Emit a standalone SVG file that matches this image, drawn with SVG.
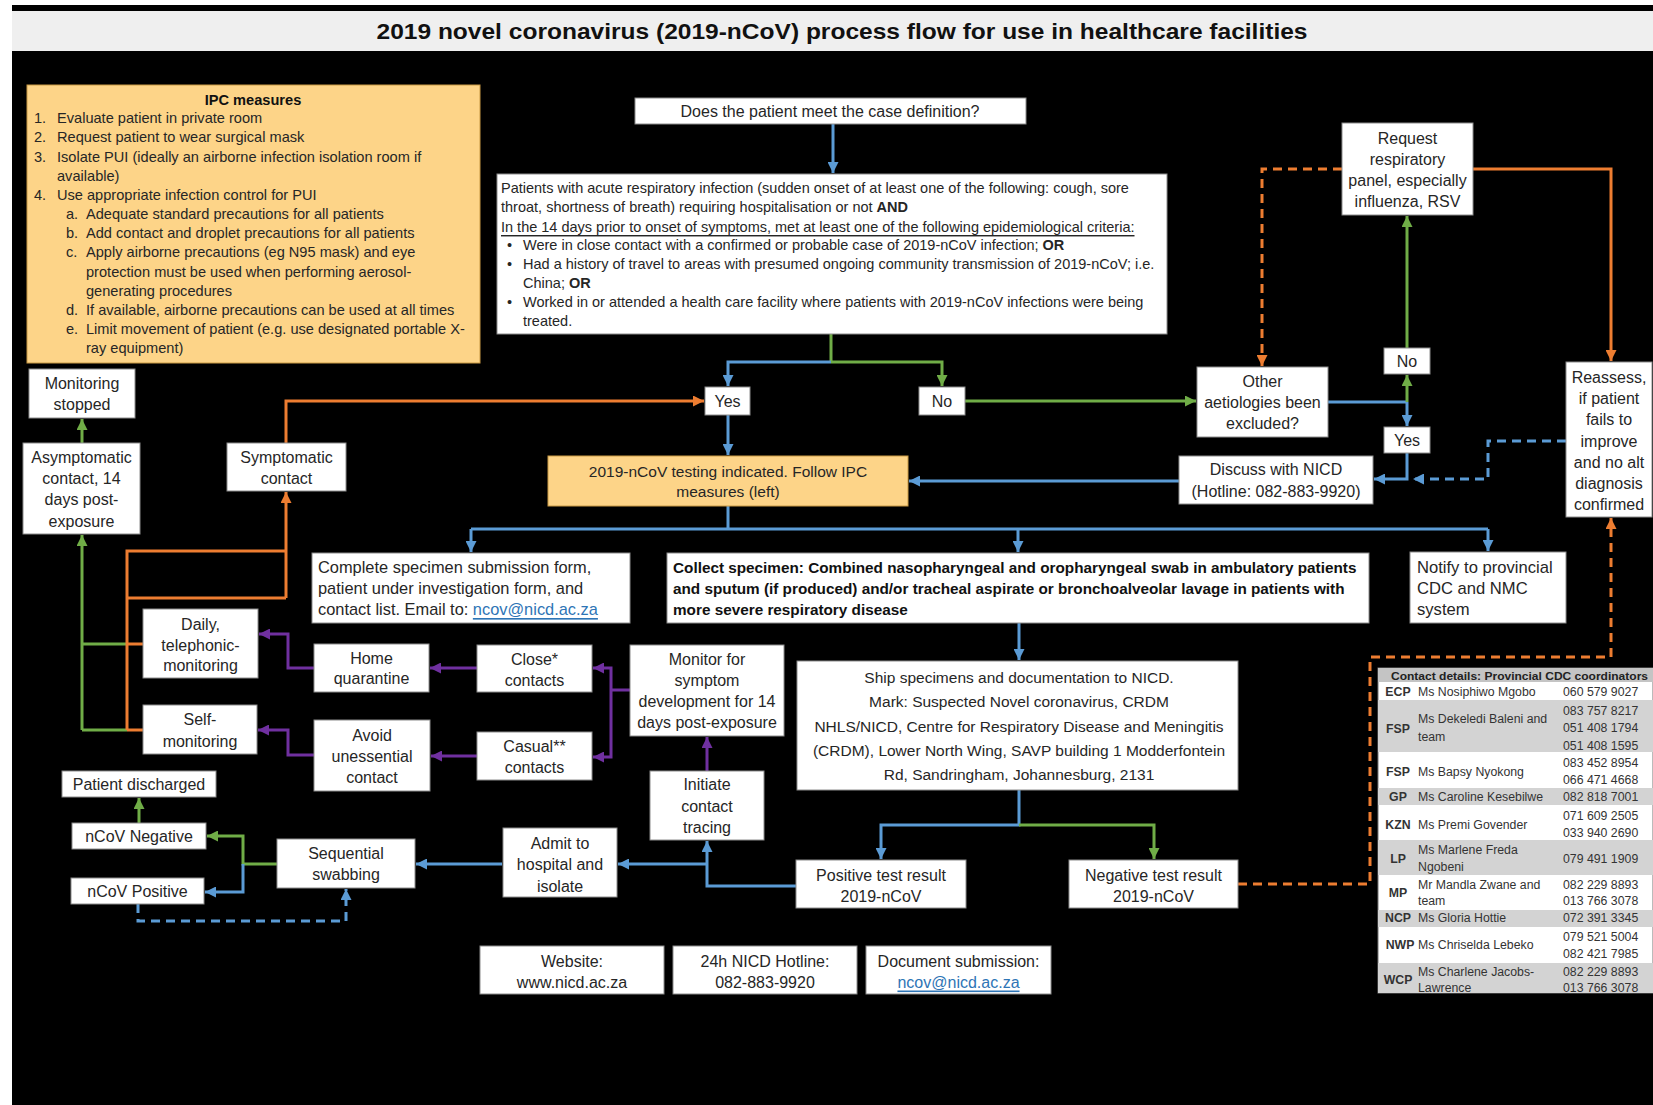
<svg xmlns="http://www.w3.org/2000/svg" width="1653" height="1105" viewBox="0 0 1653 1105">
<defs>
<style>
.box{fill:#fff;stroke:#8c8c8c;stroke-width:1}
.obox{fill:#fdd488;stroke:#c99a45;stroke-width:1}
.t{font-family:"Liberation Sans",Arial,sans-serif;font-size:16px;fill:#262626;text-anchor:middle;dominant-baseline:central}
.l{text-anchor:start}
.b{font-weight:bold}
.s14{font-size:14.6px}
.s13{font-size:14.5px}
.c{fill:none;stroke-width:3}
.blue{stroke:#5b9bd5}
.green{stroke:#70ad47}
.orange{stroke:#ed7d31}
.purple{stroke:#7030a0}
.dash{stroke-dasharray:9 6}
.link{fill:#2e75b6;text-decoration:underline}
.tb{font-family:"Liberation Sans",Arial,sans-serif;font-size:12.3px;fill:#333;dominant-baseline:central}
.gray{fill:#d3d3d3}
.white{fill:#fff}
</style>
<marker id="ab" viewBox="0 0 10 10" refX="10" refY="5" markerWidth="11" markerHeight="11" markerUnits="userSpaceOnUse" orient="auto"><path d="M0,0 L10,5 L0,10 z" fill="#5b9bd5"/></marker>
<marker id="ag" viewBox="0 0 10 10" refX="10" refY="5" markerWidth="11" markerHeight="11" markerUnits="userSpaceOnUse" orient="auto"><path d="M0,0 L10,5 L0,10 z" fill="#70ad47"/></marker>
<marker id="ao" viewBox="0 0 10 10" refX="10" refY="5" markerWidth="11" markerHeight="11" markerUnits="userSpaceOnUse" orient="auto"><path d="M0,0 L10,5 L0,10 z" fill="#ed7d31"/></marker>
<marker id="ap" viewBox="0 0 10 10" refX="10" refY="5" markerWidth="11" markerHeight="11" markerUnits="userSpaceOnUse" orient="auto"><path d="M0,0 L10,5 L0,10 z" fill="#7030a0"/></marker>
</defs>

<rect x="0" y="0" width="1653" height="1105" fill="#fff"/>
<rect x="12" y="5" width="1641" height="6" fill="#000"/>
<rect x="12" y="11" width="1641" height="40" fill="#efefef"/>
<rect x="12" y="51" width="1641" height="1054" fill="#000"/>
<text class="t b" x="842" y="32" style="font-size:21.5px;fill:#111" textLength="931" lengthAdjust="spacingAndGlyphs">2019 novel coronavirus (2019-nCoV) process flow for use in healthcare facilities</text>

<g id="connectors">
<path class="c blue" d="M833,124 V173" marker-end="url(#ab)"/>
<path class="c green" d="M831,334 V362"/>
<path class="c blue" d="M831,362 H728 V386" marker-end="url(#ab)"/>
<path class="c green" d="M831,362 H942 V386" marker-end="url(#ag)"/>
<path class="c blue" d="M728,415 V455" marker-end="url(#ab)"/>
<path class="c green" d="M965,401 H1196" marker-end="url(#ag)"/>
<path class="c orange" d="M286,443 V401 H704" marker-end="url(#ao)"/>
<path class="c blue" d="M1328,402 H1407"/>
<path class="c green" d="M1407,402 V375" marker-end="url(#ag)"/>
<path class="c blue" d="M1407,402 V426" marker-end="url(#ab)"/>
<path class="c green" d="M1407,348 V216" marker-end="url(#ag)"/>
<path class="c orange dash" d="M1342,169 H1262 V366" marker-end="url(#ao)"/>
<path class="c orange" d="M1473,169 H1611 V361" marker-end="url(#ao)"/>
<path class="c blue" d="M1407,453 V479 H1374" marker-end="url(#ab)"/>
<path class="c blue dash" d="M1566,441 H1488 V479 H1413" marker-end="url(#ab)"/>
<path class="c blue" d="M1179,481 H909" marker-end="url(#ab)"/>
<path class="c blue" d="M728,506 V529"/>
<path class="c blue" d="M471,529 H1488"/>
<path class="c blue" d="M471,529 V552" marker-end="url(#ab)"/>
<path class="c blue" d="M1018,529 V552" marker-end="url(#ab)"/>
<path class="c blue" d="M1488,529 V551" marker-end="url(#ab)"/>
<path class="c blue" d="M1019,623 V660" marker-end="url(#ab)"/>
<path class="c blue" d="M1019,790 V825 H881 V859" marker-end="url(#ab)"/>
<path class="c green" d="M1019,825 H1154 V859" marker-end="url(#ag)"/>
<path class="c blue" d="M796,886 H707 V841" marker-end="url(#ab)"/>
<path class="c blue" d="M707,864 H618" marker-end="url(#ab)"/>
<path class="c purple" d="M707,771 V737" marker-end="url(#ap)"/>
<path class="c purple" d="M630,690 H611"/>
<path class="c purple" d="M611,690 V668 H593" marker-end="url(#ap)"/>
<path class="c purple" d="M611,690 V757 H593" marker-end="url(#ap)"/>
<path class="c purple" d="M477,668 H430" marker-end="url(#ap)"/>
<path class="c purple" d="M477,756 H431" marker-end="url(#ap)"/>
<path class="c purple" d="M314,668 H288 V634 H259" marker-end="url(#ap)"/>
<path class="c purple" d="M314,755 H288 V730 H258" marker-end="url(#ap)"/>
<path class="c blue" d="M502,864 H416" marker-end="url(#ab)"/>
<path class="c green" d="M277,864 H243 V836 H207" marker-end="url(#ag)"/>
<path class="c blue" d="M243,864 V892 H205" marker-end="url(#ab)"/>
<path class="c blue dash" d="M138,904 V921 H346 V889" marker-end="url(#ab)"/>
<path class="c green" d="M139,823 V798" marker-end="url(#ag)"/>
<path class="c green" d="M82,443 V419" marker-end="url(#ag)"/>
<path class="c green" d="M82,730 V535" marker-end="url(#ag)"/>
<path class="c green" d="M82,644 H127 M82,730 H127"/>
<path class="c orange" d="M143,644 H127 M143,730 H127 M127,730 V551 H286 M127,598 H286"/>
<path class="c orange" d="M286,598 V492" marker-end="url(#ao)"/>
<path class="c orange dash" d="M1238,884 H1370 V657 H1611 V518" marker-end="url(#ao)"/>
</g>

<g id="ipc">
<rect class="obox" x="27" y="85" width="453" height="278"/>
<text class="t b s14" x="253" y="100" style="fill:#111">IPC measures</text>
<g style="fill:#111">
<text class="t l s14" x="34" y="118">1.</text><text class="t l s14" x="57" y="118">Evaluate patient in private room</text>
<text class="t l s14" x="34" y="137">2.</text><text class="t l s14" x="57" y="137">Request patient to wear surgical mask</text>
<text class="t l s14" x="34" y="157">3.</text><text class="t l s14" x="57" y="157">Isolate PUI (ideally an airborne infection isolation room if</text>
<text class="t l s14" x="57" y="176">available)</text>
<text class="t l s14" x="34" y="195">4.</text><text class="t l s14" x="57" y="195">Use appropriate infection control for PUI</text>
<text class="t l s14" x="66" y="214">a.</text><text class="t l s14" x="86" y="214">Adequate standard precautions for all patients</text>
<text class="t l s14" x="66" y="233">b.</text><text class="t l s14" x="86" y="233">Add contact and droplet precautions for all patients</text>
<text class="t l s14" x="66" y="252">c.</text><text class="t l s14" x="86" y="252">Apply airborne precautions (eg N95 mask) and eye</text>
<text class="t l s14" x="86" y="272">protection must be used when performing aerosol-</text>
<text class="t l s14" x="86" y="291">generating procedures</text>
<text class="t l s14" x="66" y="310">d.</text><text class="t l s14" x="86" y="310">If available, airborne precautions can be used at all times</text>
<text class="t l s14" x="66" y="329">e.</text><text class="t l s14" x="86" y="329">Limit movement of patient (e.g. use designated portable X-</text>
<text class="t l s14" x="86" y="348">ray equipment)</text>
</g>
</g>

<g id="casedef"><rect class="box" x="635" y="98" width="391" height="26"/><text class="t" x="830" y="111">Does the patient meet the case definition?</text></g>

<g id="patients">
<rect class="box" x="497" y="174" width="670" height="160"/>
<text class="t l s13" x="501" y="188">Patients with acute respiratory infection (sudden onset of at least one of the following: cough, sore</text>
<text class="t l s13" x="501" y="207">throat, shortness of breath) requiring hospitalisation or not <tspan class="b">AND</tspan></text>
<text class="t l s13" x="501" y="227" style="text-decoration:underline">In the 14 days prior to onset of symptoms, met at least one of the following epidemiological criteria:</text>
<text class="t l s13" x="507" y="245">•</text><text class="t l s13" x="523" y="245">Were in close contact with a confirmed or probable case of 2019-nCoV infection; <tspan class="b">OR</tspan></text>
<text class="t l s13" x="507" y="264">•</text><text class="t l s13" x="523" y="264">Had a history of travel to areas with presumed ongoing community transmission of 2019-nCoV; i.e.</text>
<text class="t l s13" x="523" y="283">China; <tspan class="b">OR</tspan></text>
<text class="t l s13" x="507" y="302">•</text><text class="t l s13" x="523" y="302">Worked in or attended a health care facility where patients with 2019-nCoV infections were being</text>
<text class="t l s13" x="523" y="321">treated.</text>
</g>

<g id="yesA"><rect class="box" x="705" y="387" width="45" height="28"/><text class="t" x="727.5" y="401">Yes</text></g>
<g id="noA"><rect class="box" x="919" y="387" width="46" height="28"/><text class="t" x="942" y="401">No</text></g>

<g id="testing"><rect class="obox" x="548" y="456" width="360" height="50"/>
<text class="t" x="728" y="471" style="font-size:15.5px">2019-nCoV testing indicated. Follow IPC</text>
<text class="t" x="728" y="491" style="font-size:15.5px">measures (left)</text></g>

<g id="other"><rect class="box" x="1197" y="367" width="131" height="70"/>
<text class="t" x="1262.5" y="381">Other</text><text class="t" x="1262.5" y="402">aetiologies been</text><text class="t" x="1262.5" y="423">excluded?</text></g>

<g id="request"><rect class="box" x="1342" y="123" width="131" height="92"/>
<text class="t" x="1407.5" y="138">Request</text><text class="t" x="1407.5" y="159">respiratory</text><text class="t" x="1407.5" y="180">panel, especially</text><text class="t" x="1407.5" y="201">influenza, RSV</text></g>

<g id="noB"><rect class="box" x="1384" y="348" width="46" height="26"/><text class="t" x="1407" y="361">No</text></g>
<g id="yesB"><rect class="box" x="1384" y="427" width="46" height="26"/><text class="t" x="1407" y="440">Yes</text></g>

<g id="discuss"><rect class="box" x="1179" y="456" width="194" height="48"/>
<text class="t" x="1276" y="469">Discuss with NICD</text><text class="t" x="1276" y="491">(Hotline: 082-883-9920)</text></g>

<g id="reassess"><rect class="box" x="1566" y="362" width="86" height="155"/>
<text class="t" x="1609" y="377">Reassess,</text><text class="t" x="1609" y="398">if patient</text><text class="t" x="1609" y="419">fails to</text><text class="t" x="1609" y="441">improve</text><text class="t" x="1609" y="462">and no alt</text><text class="t" x="1609" y="483">diagnosis</text><text class="t" x="1609" y="504">confirmed</text></g>

<g id="complete"><rect class="box" x="312" y="553" width="318" height="70"/>
<text class="t l" x="318" y="567" style="font-size:16.4px">Complete specimen submission form,</text>
<text class="t l" x="318" y="588" style="font-size:16.4px">patient under investigation form, and</text>
<text class="t l" x="318" y="609" style="font-size:16.4px">contact list. Email to: <tspan class="link">ncov@nicd.ac.za</tspan></text></g>

<g id="collect"><rect class="box" x="667" y="553" width="702" height="70"/>
<text class="t l b" x="673" y="567" style="font-size:15.3px;fill:#111">Collect specimen: Combined nasopharyngeal and oropharyngeal swab in ambulatory patients</text>
<text class="t l b" x="673" y="588" style="font-size:15.3px;fill:#111">and sputum (if produced) and/or tracheal aspirate or bronchoalveolar lavage in patients with</text>
<text class="t l b" x="673" y="609" style="font-size:15.3px;fill:#111">more severe respiratory disease</text></g>

<g id="notify"><rect class="box" x="1410" y="552" width="156" height="71"/>
<text class="t l" x="1417" y="567" style="font-size:16.6px">Notify to provincial</text><text class="t l" x="1417" y="588" style="font-size:16.6px">CDC and NMC</text><text class="t l" x="1417" y="609" style="font-size:16.6px">system</text></g>

<g id="ship"><rect class="box" x="797" y="661" width="441" height="129"/>
<text class="t" x="1019" y="677" style="font-size:15.5px">Ship specimens and documentation to NICD.</text>
<text class="t" x="1019" y="701" style="font-size:15.5px">Mark: Suspected Novel coronavirus, CRDM</text>
<text class="t" x="1019" y="726" style="font-size:15.5px">NHLS/NICD, Centre for Respiratory Disease and Meningitis</text>
<text class="t" x="1019" y="750" style="font-size:15.5px">(CRDM), Lower North Wing, SAVP building 1 Modderfontein</text>
<text class="t" x="1019" y="774" style="font-size:15.5px">Rd, Sandringham, Johannesburg, 2131</text></g>

<g id="monitoring"><rect class="box" x="29" y="369" width="106" height="49"/>
<text class="t" x="82" y="383">Monitoring</text><text class="t" x="82" y="404">stopped</text></g>
<g id="asymptomatic"><rect class="box" x="23" y="443" width="117" height="91"/>
<text class="t" x="81.5" y="457">Asymptomatic</text><text class="t" x="81.5" y="478">contact, 14</text><text class="t" x="81.5" y="499">days post-</text><text class="t" x="81.5" y="521">exposure</text></g>
<g id="symptomatic"><rect class="box" x="227" y="443" width="119" height="48"/>
<text class="t" x="286.5" y="457">Symptomatic</text><text class="t" x="286.5" y="478">contact</text></g>
<g id="daily"><rect class="box" x="143" y="609" width="115" height="69"/>
<text class="t" x="200.5" y="624">Daily,</text><text class="t" x="200.5" y="645">telephonic-</text><text class="t" x="200.5" y="665">monitoring</text></g>
<g id="selfmon"><rect class="box" x="143" y="705" width="114" height="49"/>
<text class="t" x="200" y="719">Self-</text><text class="t" x="200" y="741">monitoring</text></g>
<g id="home"><rect class="box" x="314" y="644" width="115" height="48"/>
<text class="t" x="371.5" y="658">Home</text><text class="t" x="371.5" y="678">quarantine</text></g>
<g id="avoid"><rect class="box" x="314" y="720" width="116" height="71"/>
<text class="t" x="372" y="735">Avoid</text><text class="t" x="372" y="756">unessential</text><text class="t" x="372" y="777">contact</text></g>
<g id="close"><rect class="box" x="477" y="645" width="115" height="47"/>
<text class="t" x="534.5" y="659">Close*</text><text class="t" x="534.5" y="680">contacts</text></g>
<g id="casual"><rect class="box" x="477" y="732" width="115" height="48"/>
<text class="t" x="534.5" y="746">Casual**</text><text class="t" x="534.5" y="767">contacts</text></g>
<g id="monitor"><rect class="box" x="630" y="645" width="154" height="91"/>
<text class="t" x="707" y="659">Monitor for</text><text class="t" x="707" y="680">symptom</text><text class="t" x="707" y="701">development for 14</text><text class="t" x="707" y="722">days post-exposure</text></g>
<g id="initiate"><rect class="box" x="650" y="771" width="114" height="69"/>
<text class="t" x="707" y="784">Initiate</text><text class="t" x="707" y="806">contact</text><text class="t" x="707" y="827">tracing</text></g>
<g id="admit"><rect class="box" x="503" y="828" width="114" height="69"/>
<text class="t" x="560" y="843">Admit to</text><text class="t" x="560" y="864">hospital and</text><text class="t" x="560" y="886">isolate</text></g>
<g id="sequential"><rect class="box" x="277" y="839" width="138" height="49"/>
<text class="t" x="346" y="853">Sequential</text><text class="t" x="346" y="874">swabbing</text></g>
<g id="discharged"><rect class="box" x="62" y="771" width="154" height="26"/><text class="t" x="139" y="784">Patient discharged</text></g>
<g id="ncovneg"><rect class="box" x="72" y="823" width="134" height="26"/><text class="t" x="139" y="836">nCoV Negative</text></g>
<g id="ncovpos"><rect class="box" x="71" y="878" width="133" height="26"/><text class="t" x="137.5" y="891">nCoV Positive</text></g>
<g id="posresult"><rect class="box" x="796" y="860" width="170" height="48"/>
<text class="t" x="881" y="875">Positive test result</text><text class="t" x="881" y="896">2019-nCoV</text></g>
<g id="negresult"><rect class="box" x="1069" y="860" width="169" height="48"/>
<text class="t" x="1153.5" y="875">Negative test result</text><text class="t" x="1153.5" y="896">2019-nCoV</text></g>
<g id="website"><rect class="box" x="480" y="946" width="184" height="48"/>
<text class="t" x="572" y="961">Website:</text><text class="t" x="572" y="982">www.nicd.ac.za</text></g>
<g id="hotline"><rect class="box" x="673" y="946" width="184" height="48"/>
<text class="t" x="765" y="961">24h NICD Hotline:</text><text class="t" x="765" y="982">082-883-9920</text></g>
<g id="docsub"><rect class="box" x="866" y="946" width="185" height="48"/>
<text class="t" x="958.5" y="961">Document submission:</text><text class="t link" x="958.5" y="982">ncov@nicd.ac.za</text></g>

<g id="contacts-table">
<rect x="1378" y="668" width="275" height="325" fill="#fff" stroke="#777" stroke-width="1"/>
<rect x="1378" y="668" width="275" height="14" fill="#c4c4c4"/>
<rect class="gray" x="1378" y="700" width="275" height="52"/>
<rect class="gray" x="1378" y="788" width="275" height="17"/>
<rect class="gray" x="1378" y="840" width="275" height="35"/>
<rect class="gray" x="1378" y="910" width="275" height="17"/>
<rect class="gray" x="1378" y="963" width="275" height="30"/>
<text class="tb b" x="1391" y="676" style="font-size:11.5px;fill:#222" textLength="257" lengthAdjust="spacingAndGlyphs">Contact details: Provincial CDC coordinators</text>
<g>
<text class="tb b" x="1398" y="692" text-anchor="middle">ECP</text>
<text class="tb b" x="1398" y="729" text-anchor="middle">FSP</text>
<text class="tb b" x="1398" y="772" text-anchor="middle">FSP</text>
<text class="tb b" x="1398" y="797" text-anchor="middle">GP</text>
<text class="tb b" x="1398" y="825" text-anchor="middle">KZN</text>
<text class="tb b" x="1398" y="859" text-anchor="middle">LP</text>
<text class="tb b" x="1398" y="893" text-anchor="middle">MP</text>
<text class="tb b" x="1398" y="918" text-anchor="middle">NCP</text>
<text class="tb b" x="1400" y="945" text-anchor="middle">NWP</text>
<text class="tb b" x="1398" y="980" text-anchor="middle">WCP</text>
</g>
<text class="tb" x="1418" y="692">Ms Nosiphiwo Mgobo</text>
<text class="tb" x="1418" y="719">Ms Dekeledi Baleni and</text>
<text class="tb" x="1418" y="737">team</text>
<text class="tb" x="1418" y="772">Ms Bapsy Nyokong</text>
<text class="tb" x="1418" y="797">Ms Caroline Kesebilwe</text>
<text class="tb" x="1418" y="825">Ms Premi Govender</text>
<text class="tb" x="1418" y="850">Ms Marlene Freda</text>
<text class="tb" x="1418" y="867">Ngobeni</text>
<text class="tb" x="1418" y="885">Mr Mandla Zwane and</text>
<text class="tb" x="1418" y="901">team</text>
<text class="tb" x="1418" y="918">Ms Gloria Hottie</text>
<text class="tb" x="1418" y="945">Ms Chriselda Lebeko</text>
<text class="tb" x="1418" y="972">Ms Charlene Jacobs-</text>
<text class="tb" x="1418" y="988">Lawrence</text>
<text class="tb" x="1563" y="692">060 579 9027</text>
<text class="tb" x="1563" y="711">083 757 8217</text>
<text class="tb" x="1563" y="728">051 408 1794</text>
<text class="tb" x="1563" y="746">051 408 1595</text>
<text class="tb" x="1563" y="763">083 452 8954</text>
<text class="tb" x="1563" y="780">066 471 4668</text>
<text class="tb" x="1563" y="797">082 818 7001</text>
<text class="tb" x="1563" y="816">071 609 2505</text>
<text class="tb" x="1563" y="833">033 940 2690</text>
<text class="tb" x="1563" y="859">079 491 1909</text>
<text class="tb" x="1563" y="885">082 229 8893</text>
<text class="tb" x="1563" y="901">013 766 3078</text>
<text class="tb" x="1563" y="918">072 391 3345</text>
<text class="tb" x="1563" y="937">079 521 5004</text>
<text class="tb" x="1563" y="954">082 421 7985</text>
<text class="tb" x="1563" y="972">082 229 8893</text>
<text class="tb" x="1563" y="988">013 766 3078</text>
</g>
</svg>
